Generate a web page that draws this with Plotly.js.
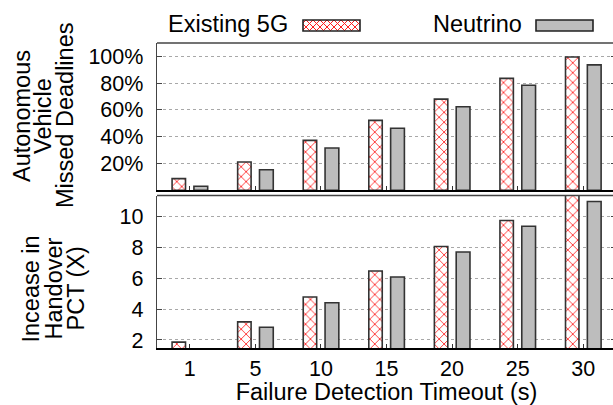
<!DOCTYPE html>
<html>
<head>
<meta charset="utf-8">
<script src="https://cdn.plot.ly/plotly-3.0.1.min.js"></script>
<style>
html,body{margin:0;padding:0;overflow:hidden;background:#fff;width:613px;height:405px;}
#chart{width:616px;height:405px;}
</style>
</head>
<body>
<div id="chart"></div>
<script>
// ---- data ----
const categories = ['1', '5', '10', '15', '20', '25', '30'];
const existingMissed = [8.7, 21.1, 37.3, 52.2, 68.1, 83.6, 99.5];
const neutrinoMissed = [3.0, 15.4, 31.6, 46.3, 62.4, 78.4, 93.7];
const existingPct = [1.86, 3.17, 4.78, 6.47, 8.06, 9.74, 11.8];
const neutrinoPct = [1.4, 2.82, 4.41, 6.08, 7.70, 9.37, 10.97];
const seriesNames = ['Existing 5G', 'Neutrino'];
const missedTicks = [20, 40, 60, 80, 100];
const pctTicks = [2, 4, 6, 8, 10];

// ---- geometry helpers (pixel -> paper) ----
const W = 616, H = 405, ML = 157, MR = 0, MT = 43, MB = 57;
const PW = W - ML - MR, PH = H - MT - MB;
const px = v => (v - ML) / PW;
const py = v => (H - MB - v) / PH;

const FONT = 'Liberation Sans, Arial, sans-serif';
const hatch = {shape: 'x', fgcolor: '#ff0000', bgcolor: '#ffffff', size: 7, solidity: 0.2};
const outline = {color: '#333', width: 1.6};
const grey = '#bdbdbd';

const traces = [
  {type: 'bar', x: categories, y: existingMissed, name: seriesNames[0], xaxis: 'x', yaxis: 'y',
   offset: -0.27, width: 0.205, marker: {color: '#fff', pattern: hatch, line: outline}, showlegend: false},
  {type: 'bar', x: categories, y: neutrinoMissed, name: seriesNames[1], xaxis: 'x', yaxis: 'y',
   offset: 0.063, width: 0.21, marker: {color: grey, line: outline}, showlegend: false},
  {type: 'bar', x: categories, y: existingPct, name: seriesNames[0], xaxis: 'x2', yaxis: 'y2',
   offset: -0.27, width: 0.205, marker: {color: '#fff', pattern: hatch, line: outline}, showlegend: false},
  {type: 'bar', x: categories, y: neutrinoPct, name: seriesNames[1], xaxis: 'x2', yaxis: 'y2',
   offset: 0.063, width: 0.21, marker: {color: grey, line: outline}, showlegend: false}
];

// legend swatch hatch path
function hatchPath(x0, y0, x1, y1, p) {
  const h = y1 - y0;
  let d = '';
  for (let a = x0 - h; a <= x1 + h; a += p) {
    let t0 = Math.max(0, x0 - a), t1 = Math.min(h, x1 - a);
    if (t1 > t0) d += `M${px(a + t0)},${py(y0 + t0)} L${px(a + t1)},${py(y0 + t1)} `;
    t0 = Math.max(0, a - x1); t1 = Math.min(h, a - x0);
    if (t1 > t0) d += `M${px(a - t0)},${py(y0 + t0)} L${px(a - t1)},${py(y0 + t1)} `;
  }
  return d;
}

const sw1 = [303, 20, 360, 31], sw2 = [536, 20, 593, 31];
const shapes = [
  {type: 'line', xref: 'paper', yref: 'paper', x0: 0, x1: 1, y0: 1, y1: 1, line: {color: '#444', width: 1.3}},
  {type: 'line', xref: 'paper', yref: 'paper', x0: 0, x1: 1, y0: 0.5, y1: 0.5, line: {color: '#444', width: 1.3}},
  {type: 'rect', xref: 'paper', yref: 'paper', x0: px(sw1[0]), x1: px(sw1[2]), y0: py(sw1[1]), y1: py(sw1[3]),
   fillcolor: '#fff', line: {width: 0}},
  {type: 'path', xref: 'paper', yref: 'paper', path: hatchPath(sw1[0], sw1[1], sw1[2], sw1[3], 7),
   line: {color: '#ff2020', width: 1}},
  {type: 'rect', xref: 'paper', yref: 'paper', x0: px(sw1[0]), x1: px(sw1[2]), y0: py(sw1[1]), y1: py(sw1[3]),
   fillcolor: 'rgba(0,0,0,0)', line: {color: '#222', width: 1.6}},
  {type: 'rect', xref: 'paper', yref: 'paper', x0: px(sw2[0]), x1: px(sw2[2]), y0: py(sw2[1]), y1: py(sw2[3]),
   fillcolor: grey, line: {color: '#222', width: 1.6}}
];

const titleFont = {family: FONT, size: 23.5, color: '#000'};
const ann = (text, x, y, angle, xanchor) => ({
  text: text, xref: 'paper', yref: 'paper', x: px(x), y: py(y), showarrow: false,
  textangle: angle || 0, xanchor: xanchor || 'center', yanchor: 'middle', font: titleFont
});
const annotations = [
  ann('Autonomous', 22, 116, -90), ann('Vehicle', 43, 116, -90), ann('Missed Deadlines', 65, 116, -90),
  ann('Incease in', 30.5, 289, -90), ann('Handover', 53.5, 289, -90), ann('PCT (X)', 75.5, 289, -90),
  ann(seriesNames[0], 290, 24, 0, 'right'), ann(seriesNames[1], 524, 24, 0, 'right')
];

const tickFont = {family: FONT, size: 21.5, color: '#000'};
const xcommon = {
  type: 'category', range: [-0.5, 6.5], showline: true, linecolor: '#000', linewidth: 2, mirror: false,
  ticks: 'inside', ticklen: 4, tickwidth: 1, tickcolor: '#333', showgrid: false, zeroline: false,
  tickfont: tickFont, fixedrange: true
};
const ycommon = {
  showline: true, linecolor: '#444', linewidth: 1.3, mirror: 'ticks', ticks: 'inside', ticklen: 5,
  tickcolor: '#444', showgrid: true, gridcolor: '#a8a8a8', griddash: 'dot', gridwidth: 1,
  zeroline: false, tickfont: tickFont, ticklabelstandoff: 8, fixedrange: true
};

const layout = {
  width: W, height: H,
  margin: {l: ML, r: MR, t: MT, b: MB, pad: 0},
  paper_bgcolor: '#fff', plot_bgcolor: '#fff',
  barmode: 'group',
  showlegend: false,
  font: {family: FONT, color: '#000'},
  xaxis: Object.assign({}, xcommon, {anchor: 'y', showticklabels: false}),
  yaxis: Object.assign({}, ycommon, {domain: [0.517, 1], range: [0, 110], tickvals: missedTicks,
    ticktext: missedTicks.map(v => v + '%')}),
  xaxis2: Object.assign({}, xcommon, {anchor: 'y2', matches: 'x', ticklabelstandoff: 0,
    title: {text: 'Failure Detection Timeout (s)', font: titleFont, standoff: 10}}),
  yaxis2: Object.assign({}, ycommon, {domain: [0, 0.5], range: [1.48, 11.36], tickvals: pctTicks}),
  shapes: shapes,
  annotations: annotations
};

Plotly.newPlot('chart', traces, layout, {staticPlot: true, displayModeBar: false});
</script>
</body>
</html>
